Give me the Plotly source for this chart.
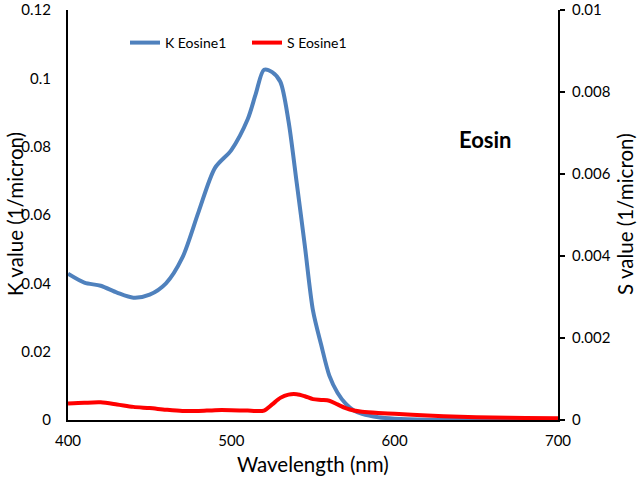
import plotly.graph_objects as go

wavelength = [400, 410, 420, 430, 440, 450, 460, 470, 480, 490, 500, 510, 515, 520, 525,
              530, 535, 540, 545, 550, 555, 560, 565, 570, 575, 580, 590, 600, 620, 640,
              660, 680, 700]
k_eosine1 = [0.0428, 0.0402, 0.0393, 0.0373, 0.0358, 0.0367, 0.0400, 0.0475, 0.0610, 0.0738,
             0.0790, 0.0880, 0.0955, 0.1025, 0.1018, 0.0990, 0.0875, 0.0695, 0.0510, 0.0320,
             0.0220, 0.0130, 0.0080, 0.0048, 0.0028, 0.0018, 0.0008, 0.0004, 0.0001, 0.0,
             0.0, 0.0, 0.0]
s_eosine1 = [0.00040, 0.00042, 0.00043, 0.00038, 0.00032, 0.00029, 0.00025, 0.00022, 0.00022,
             0.00024, 0.00024, 0.00023, 0.00022, 0.00023, 0.00038, 0.00054, 0.00062, 0.00063,
             0.00058, 0.00051, 0.00049, 0.00047, 0.00038, 0.00029, 0.00023, 0.00020, 0.00017,
             0.00015, 0.00011, 0.00008, 0.00006, 0.00005, 0.00004]

x_ticks = [400, 500, 600, 700]
k_ticks = [0, 0.02, 0.04, 0.06, 0.08, 0.1, 0.12]
k_tick_labels = ["0", "0.02", "0.04", "0.06", "0.08", "0.1", "0.12"]
s_ticks = [0, 0.002, 0.004, 0.006, 0.008, 0.01]
s_tick_labels = ["0", "0.002", "0.004", "0.006", "0.008", "0.01"]

FONT = "Lato, 'Open Sans', sans-serif"

W, H = 638, 478
L, R, T, B = 68, 80, 10, 58
PW, PH = W - L - R, H - T - B


def px(x):
    return (x - L) / PW


def py(y):
    return (H - B - y) / PH


fig = go.Figure()
fig.add_trace(go.Scatter(x=wavelength, y=k_eosine1, mode="lines", name="K Eosine1",
                         line=dict(color="#4F81BD", width=4, shape="spline", smoothing=0.8),
                         yaxis="y", legend="legend"))
fig.add_trace(go.Scatter(x=wavelength, y=s_eosine1, mode="lines", name="S Eosine1",
                         line=dict(color="#FF0000", width=4, shape="spline", smoothing=0.8),
                         yaxis="y2", legend="legend2"))

fig.update_layout(
    width=W, height=H,
    margin=dict(l=L, r=R, t=T, b=B, autoexpand=False),
    paper_bgcolor="white", plot_bgcolor="white",
    font=dict(family=FONT, color="black", size=15),
    showlegend=True,
    legend=dict(x=px(125), y=py(27), xanchor="left", yanchor="top",
                font=dict(size=14), bgcolor="rgba(0,0,0,0)", itemwidth=30),
    legend2=dict(x=px(247), y=py(27), xanchor="left", yanchor="top",
                 font=dict(size=14), bgcolor="rgba(0,0,0,0)", itemwidth=30),
    xaxis=dict(range=[400, 700], tickvals=x_ticks, showgrid=False, zeroline=False,
               showline=True, linecolor="black", linewidth=2, ticks="",
               ticklabelstandoff=6, automargin=False, tickfont=dict(size=15),
               ticklabeloverflow="allow"),
    yaxis=dict(range=[0, 0.12], tickvals=k_ticks, ticktext=k_tick_labels,
               showgrid=False, zeroline=False,
               showline=True, linecolor="black", linewidth=2, ticks="",
               ticklabelstandoff=12, automargin=False, tickfont=dict(size=15),
               ticklabeloverflow="allow"),
    yaxis2=dict(range=[0, 0.01], tickvals=s_ticks, ticktext=s_tick_labels,
                overlaying="y", side="right",
                showgrid=False, zeroline=False, showline=True, linecolor="black",
                linewidth=2, ticks="outside", ticklen=5, tickwidth=2, tickcolor="black",
                ticklabelstandoff=4, automargin=False, tickfont=dict(size=15),
                ticklabeloverflow="allow"),
    annotations=[
        dict(text="<b>Eosin</b>", x=px(485), y=py(140), xref="paper", yref="paper",
             xanchor="center", yanchor="middle",
             showarrow=False, font=dict(size=22, family=FONT)),
        dict(text="Wavelength (nm)", x=px(313), y=py(464),
             xref="paper", yref="paper", xanchor="center", yanchor="middle",
             showarrow=False, font=dict(size=20.5)),
        dict(text="K value (1/micron)", x=px(15), y=py(214),
             xref="paper", yref="paper", xanchor="center", yanchor="middle",
             showarrow=False, textangle=-90, font=dict(size=20.5)),
        dict(text="S value (1/micron)", x=px(625), y=py(214),
             xref="paper", yref="paper", xanchor="center", yanchor="middle",
             showarrow=False, textangle=-90, font=dict(size=20.5)),
    ],
)

fig.write_html("out.html", config={"displayModeBar": False},
               post_script="document.body.style.margin='0px';")
